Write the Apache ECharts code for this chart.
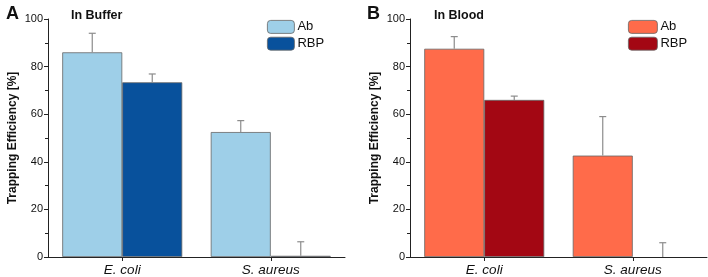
<!DOCTYPE html>
<html>
<head>
<meta charset="utf-8">
<script src="https://cdn.jsdelivr.net/npm/echarts@6/dist/echarts.min.js"></script>
<style>html,body{margin:0;padding:0;background:#fff}#c{width:708px;height:277px}</style>
</head>
<body>
<div id="c"></div>
<script>
const categories = ['E. coli', 'S. aureus'];
const yTicks = [0, 20, 40, 60, 80, 100];
const panelLetters = ['A', 'B'];
const panelTitles = ['In Buffer', 'In Blood'];
const seriesNames = ['Ab', 'RBP'];

const bufferAb = [86, 52.5];
const bufferAbErr = [8, 4.8];
const bufferRBP = [73.4, 0.5];
const bufferRBPErr = [3.5, 5.9];

const bloodAb = [87.5, 42.6];
const bloodAbErr = [5.1, 16.4];
const bloodRBP = [66, 0];
const bloodRBPErr = [1.6, 6.0];

const colors = [['#9ecfe8', '#08519c'], ['#ff6b4a', '#a30713']];
const BAR_W = 60;

const chart = echarts.init(document.getElementById('c'), null, {renderer: 'canvas'});

function errSeries(vals, errs, gi, side) {
  return {
    type: 'custom', xAxisIndex: gi, yAxisIndex: gi, z: 5, silent: true,
    data: vals.map((v, i) => [i, v, errs[i]]),
    renderItem: function (params, api) {
      const i = api.value(0), v = api.value(1), e = api.value(2);
      const p0 = api.coord([i, v]);
      const p1 = api.coord([i, v + e]);
      const x = p0[0] + side * BAR_W / 2;
      return {
        type: 'group',
        children: [
          {type: 'line', shape: {x1: x, y1: p0[1], x2: x, y2: p1[1]}, style: {stroke: '#8c8c8c', lineWidth: 1.2}},
          {type: 'line', shape: {x1: x - 3.5, y1: p1[1], x2: x + 3.5, y2: p1[1]}, style: {stroke: '#8c8c8c', lineWidth: 1.2}}
        ]
      };
    }
  };
}

const grids = [
  {left: 48, top: 19, width: 297, height: 238},
  {left: 410, top: 19, width: 297, height: 238}
];

function xAx(gi) {
  return {
    type: 'category', gridIndex: gi, data: categories,
    axisLine: {lineStyle: {color: '#222', width: 1}},
    axisTick: {show: true, alignWithLabel: true, length: 4, lineStyle: {color: '#222'}},
    axisLabel: {fontSize: 13.5, fontStyle: 'italic', color: '#111', margin: 6, fontFamily: 'Liberation Sans'}
  };
}
function yAx(gi) {
  return {
    type: 'value', gridIndex: gi, min: 0, max: 100, interval: 20,
    name: 'Trapping Efficiency [%]', nameLocation: 'middle', nameGap: 29,
    nameTextStyle: {fontSize: 12, fontWeight: 'bold', color: '#111', fontFamily: 'Liberation Sans'},
    axisLine: {show: true, lineStyle: {color: '#222', width: 1}},
    axisTick: {show: true, length: 4, lineStyle: {color: '#222'}},
    minorTick: {show: true, splitNumber: 2, length: 3, lineStyle: {color: '#222'}},
    splitLine: {show: false},
    axisLabel: {fontSize: 11, color: '#111', margin: 5, fontFamily: 'Liberation Sans'}
  };
}

function barSeries(name, vals, gi, color) {
  return {
    name: name, type: 'bar', xAxisIndex: gi, yAxisIndex: gi,
    data: vals.map(v => v === 0 ? {value: v, itemStyle: {borderWidth: 0}} : v),
    barWidth: BAR_W, barGap: '0%',
    itemStyle: {color: color, borderColor: '#666', borderWidth: 0.8}
  };
}

const option = {
  animation: false,
  textStyle: {fontFamily: 'Liberation Sans'},
  title: [
    {text: panelLetters[0], left: 1, top: 0, textStyle: {fontSize: 18, fontWeight: 'bold', color: '#111'}},
    {text: panelTitles[0], left: 66, top: 4, textStyle: {fontSize: 12.5, fontWeight: 'bold', color: '#111'}},
    {text: panelLetters[1], left: 362, top: 0, textStyle: {fontSize: 18, fontWeight: 'bold', color: '#111'}},
    {text: panelTitles[1], left: 429, top: 4, textStyle: {fontSize: 12.5, fontWeight: 'bold', color: '#111'}}
  ],
  legend: [
    {left: 262, top: 15, orient: 'vertical', itemWidth: 27, itemHeight: 13, itemGap: 3,
     textStyle: {fontSize: 13, color: '#111', padding: [0, 0, 0, -2]},
     data: [{name: seriesNames[0], itemStyle: {color: colors[0][0], borderColor: '#666', borderWidth: 0.8}},
            {name: seriesNames[1], itemStyle: {color: colors[0][1], borderColor: '#666', borderWidth: 0.8}}],
     selectedMode: false},
    {left: 623, top: 15, orient: 'vertical', itemWidth: 29, itemHeight: 13, itemGap: 3,
     textStyle: {fontSize: 13, color: '#111', padding: [0, 0, 0, -2]},
     data: [{name: seriesNames[0], itemStyle: {color: colors[1][0], borderColor: '#666', borderWidth: 0.8}},
            {name: seriesNames[1], itemStyle: {color: colors[1][1], borderColor: '#666', borderWidth: 0.8}}],
     selectedMode: false}
  ],
  grid: grids,
  xAxis: [xAx(0), xAx(1)],
  yAxis: [yAx(0), yAx(1)],
  series: [
    barSeries(seriesNames[0], bufferAb, 0, colors[0][0]),
    barSeries(seriesNames[1], bufferRBP, 0, colors[0][1]),
    barSeries(seriesNames[0], bloodAb, 1, colors[1][0]),
    barSeries(seriesNames[1], bloodRBP, 1, colors[1][1]),
    errSeries(bufferAb, bufferAbErr, 0, -1),
    errSeries(bufferRBP, bufferRBPErr, 0, 1),
    errSeries(bloodAb, bloodAbErr, 1, -1),
    errSeries(bloodRBP, bloodRBPErr, 1, 1)
  ]
};
chart.setOption(option);
</script>
</body>
</html>
